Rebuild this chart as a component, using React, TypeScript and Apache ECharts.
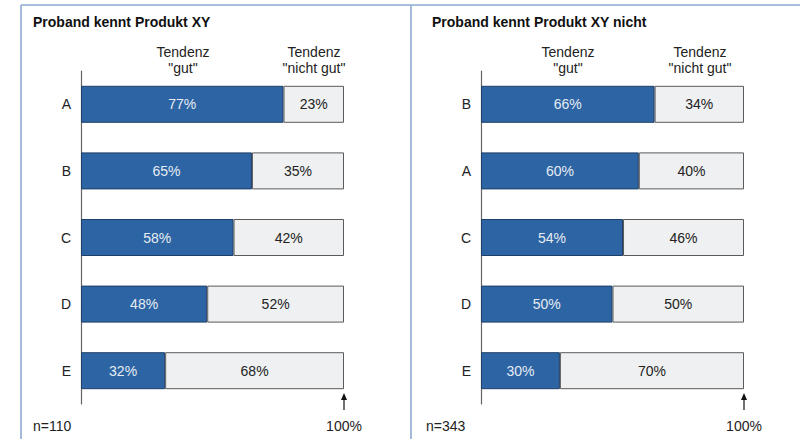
import React, { useEffect, useRef } from "react";
import * as echarts from "echarts";

const categoriesLeft = ["A", "B", "C", "D", "E"];
const gutLeft = [77, 65, 58, 48, 32];
const nichtGutLeft = [23, 35, 42, 52, 68];

const categoriesRight = ["B", "A", "C", "D", "E"];
const gutRight = [66, 60, 54, 50, 30];
const nichtGutRight = [34, 40, 46, 50, 70];

const titleLeft = "Proband kennt Produkt XY";
const titleRight = "Proband kennt Produkt XY nicht";
const nLeft = "n=110";
const nRight = "n=343";

const FONT = "'Liberation Sans', Arial, Helvetica, sans-serif";
const BLUE = "#2D64A3";
const BLUE_BORDER = "#1E3F68";
const GREY = "#EEF0F1";
const GREY_BORDER = "#5A5A5A";
const PANEL = "#8EAAD0";

export default function App() {
  const ref = useRef<HTMLDivElement>(null);

  useEffect(() => {
    if (!ref.current) return;
    const chart = echarts.init(ref.current, undefined, { renderer: "svg" });

    const grids = [
      { left: 81, top: 71, width: 263, height: 333 },
      { left: 481, top: 71, width: 263, height: 333 },
    ];
    const cats = [categoriesLeft, categoriesRight];
    const gut = [gutLeft, gutRight];
    const nicht = [nichtGutLeft, nichtGutRight];

    const series: any[] = [];
    [0, 1].forEach((i) => {
      series.push({
        type: "bar",
        name: "gut",
        stack: "s" + i,
        xAxisIndex: i,
        yAxisIndex: i,
        barWidth: 37,
        data: gut[i],
        itemStyle: { color: BLUE, borderColor: BLUE_BORDER, borderWidth: 1 },
        label: {
          show: true,
          position: "inside",
          formatter: "{c}%",
          color: "#E6ECF4",
          fontSize: 14,
          fontFamily: FONT,
        },
      });
      series.push({
        type: "bar",
        name: "nicht gut",
        stack: "s" + i,
        xAxisIndex: i,
        yAxisIndex: i,
        barWidth: 37,
        data: nicht[i],
        itemStyle: { color: GREY, borderColor: GREY_BORDER, borderWidth: 1 },
        label: {
          show: true,
          position: "inside",
          formatter: "{c}%",
          color: "#222",
          fontSize: 14,
          fontFamily: FONT,
        },
      });
    });

    const header = (x: number, lines: string) => ({
      type: "text",
      x,
      y: 60,
      style: {
        text: lines,
        fill: "#222",
        font: `14px ${FONT}`,
        textAlign: "center",
        textVerticalAlign: "middle",
        lineHeight: 16,
      },
    });

    const hundred = (x: number) => [
      {
        type: "line",
        shape: { x1: x, y1: 410, x2: x, y2: 398 },
        style: { stroke: "#111", lineWidth: 1.2 },
      },
      {
        type: "polygon",
        shape: { points: [[x, 393], [x - 3, 400], [x + 3, 400]] },
        style: { fill: "#111" },
      },
      {
        type: "text",
        x,
        y: 426,
        style: {
          text: "100%",
          fill: "#222",
          font: `14px ${FONT}`,
          textAlign: "center",
          textVerticalAlign: "middle",
        },
      },
    ];

    chart.setOption({
      animation: false,
      backgroundColor: "#fff",
      grid: grids.map((g) => ({ ...g, containLabel: false })),
      xAxis: [0, 1].map((i) => ({
        type: "value",
        gridIndex: i,
        min: 0,
        max: 100,
        show: false,
      })),
      yAxis: [0, 1].map((i) => ({
        type: "category",
        gridIndex: i,
        data: cats[i],
        inverse: true,
        axisLine: { show: true, lineStyle: { color: "#666", width: 1.2 } },
        axisTick: { show: false },
        axisLabel: {
          color: "#222",
          fontSize: 14,
          fontFamily: FONT,
          margin: 10,
        },
        splitLine: { show: false },
      })),
      series,
      graphic: [
        {
          type: "line",
          shape: { x1: 21, y1: 5, x2: 21, y2: 439 },
          style: { stroke: PANEL, lineWidth: 1.6 },
        },
        {
          type: "line",
          shape: { x1: 21, y1: 5, x2: 800, y2: 5 },
          style: { stroke: PANEL, lineWidth: 1.6 },
        },
        {
          type: "line",
          shape: { x1: 411, y1: 5, x2: 411, y2: 439 },
          style: { stroke: PANEL, lineWidth: 1.6 },
        },
        {
          type: "text",
          x: 33,
          y: 22,
          style: {
            text: titleLeft,
            fill: "#111",
            font: `bold 14px ${FONT}`,
            textVerticalAlign: "middle",
          },
        },
        {
          type: "text",
          x: 432,
          y: 22,
          style: {
            text: titleRight,
            fill: "#111",
            font: `bold 14px ${FONT}`,
            textVerticalAlign: "middle",
          },
        },
        header(183, 'Tendenz\n"gut"'),
        header(314, 'Tendenz\n"nicht gut"'),
        header(568, 'Tendenz\n"gut"'),
        header(700, 'Tendenz\n"nicht gut"'),
        {
          type: "text",
          x: 33,
          y: 426,
          style: {
            text: nLeft,
            fill: "#222",
            font: `14px ${FONT}`,
            textVerticalAlign: "middle",
          },
        },
        {
          type: "text",
          x: 426,
          y: 426,
          style: {
            text: nRight,
            fill: "#222",
            font: `14px ${FONT}`,
            textVerticalAlign: "middle",
          },
        },
        ...hundred(344),
        ...hundred(744),
      ],
    });

    return () => chart.dispose();
  }, []);

  return (
    <div
      ref={ref}
      style={{ position: "fixed", left: 0, top: 0, width: 800, height: 439 }}
    />
  );
}
